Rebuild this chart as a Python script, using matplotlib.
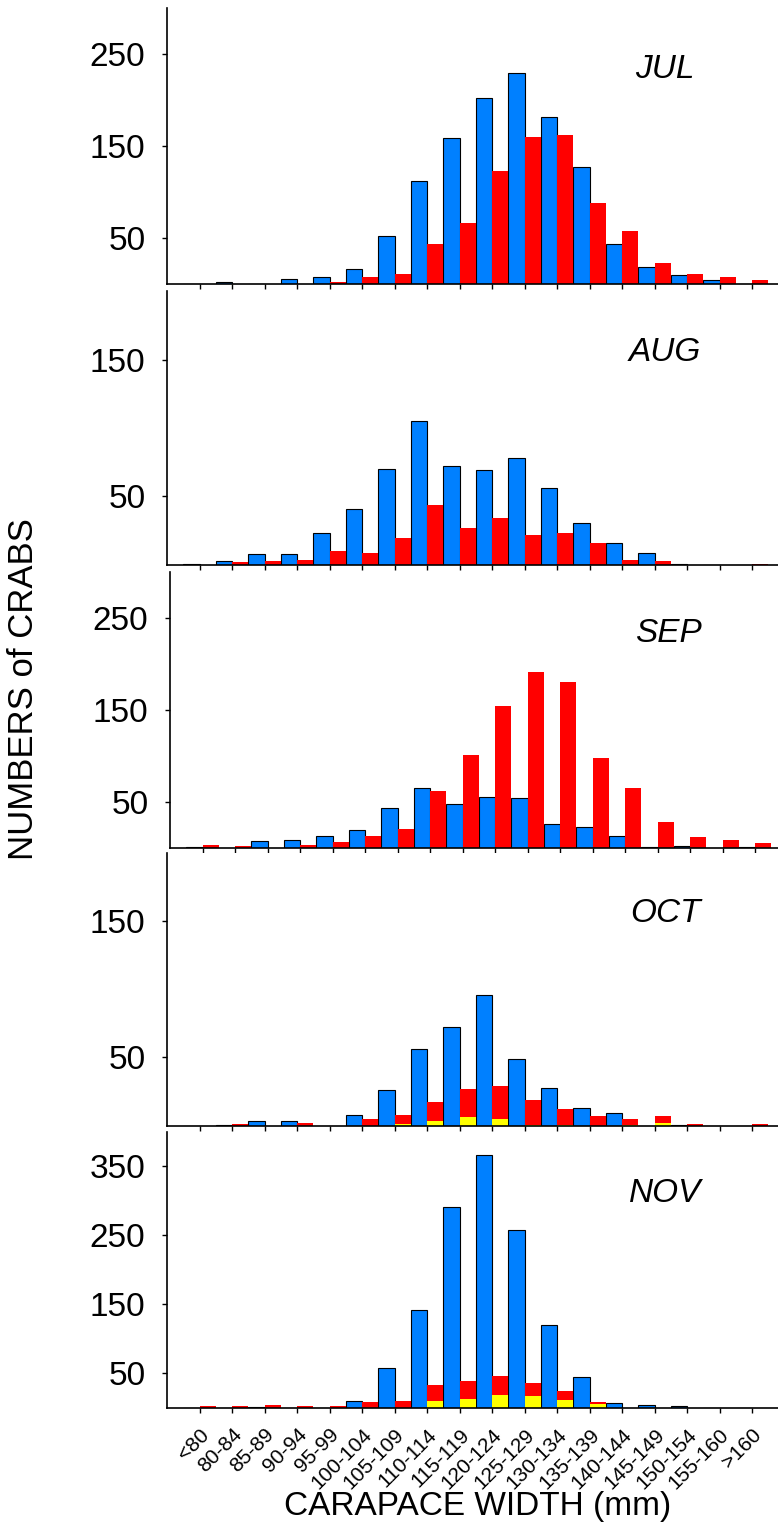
import numpy as np
import matplotlib
matplotlib.use('Agg')
import matplotlib.pyplot as plt

## {{{                          --     data     --
size_classes = ['<80', '80-84', '85-89', '90-94', '95-99', '100-104', '105-109',
                '110-114', '115-119', '120-124', '125-129', '130-134', '135-139',
                '140-144', '145-149', '150-154', '155-160', '>160']

jul_blue = [0, 2, 0, 5, 8, 16, 52, 112, 159, 202, 229, 181, 127, 43, 19, 10, 4, 0]
jul_red = [0, 0, 0, 0, 2.5, 8, 10.5, 43, 66, 123, 160, 162, 88, 58, 23, 11, 8, 4]

aug_blue = [1, 3, 8, 8, 23, 41, 70, 105, 72, 69, 78, 56, 31, 16, 9, 1, 0, 0]
aug_red = [0, 2, 3, 4, 10, 9, 20, 44, 27, 34, 22, 23, 16, 4, 3, 0, 0, 1]

sep_blue = [1, 0, 7, 8, 12, 19, 43, 65, 47, 55, 54, 26, 22, 12, 1, 2, 0, 1]
sep_red = [2.5, 1.5, 0, 2.5, 6, 12, 20, 62, 101, 154, 191, 180, 97, 65, 28, 11, 8, 5]

oct_blue = [0, 0.7, 3.6, 3, 0, 7.5, 26, 56, 72.5, 96, 49, 27.5, 13, 9, 0, 0.7, 0, 0]
oct_red = [0, 1, 0, 2, 0, 5, 8, 17, 27, 29, 19, 12, 7, 5, 7, 1, 0, 1]
oct_yellow = [0, 0, 0, 0, 0, 0, 1.2, 3.4, 6.3, 4.8, 0.5, 0.5, 0, 0.5, 1.9, 0, 0, 0]

nov_blue = [0, 0, 0.5, 0, 0, 9, 58, 141, 291, 366, 258, 120, 44, 6, 4, 1.5, 0, 0]
nov_red = [1.5, 2, 3.4, 2, 2, 7.7, 9.7, 32, 38, 46, 35, 24, 8, 0, 0, 0, 0, 0]
nov_yellow = [0, 0, 0, 0, 0, 0, 0, 9, 12, 18, 16, 10.6, 4.8, 0, 0, 0, 0, 0]

months = ['JUL', 'AUG', 'SEP', 'OCT', 'NOV']
##────────────────────────────────────────────────────────────────────────────}}}

## {{{                          --     layout     --
plt.rcParams['font.family'] = ['Liberation Sans', 'DejaVu Sans']

W, H = 778, 1523
fig = plt.figure(figsize=(W / 100, H / 100), dpi=100)

BLUE, RED, YELLOW = '#0080FF', '#FF0000', '#FFFF00'

# (blue, red, yellow, ymax, yticks, top px, bottom px, left px)
panels = [
    (jul_blue, jul_red, None, 300, [50, 150, 250], 8, 284, 167),
    (aug_blue, aug_red, None, 200, [50, 150], 291, 565, 167),
    (sep_blue, sep_red, None, 300, [50, 150, 250], 572, 847.5, 170),
    (oct_blue, oct_red, oct_yellow, 200, [50, 150], 853, 1125.5, 167),
    (nov_blue, nov_red, nov_yellow, 400, [50, 150, 250, 350], 1132, 1407.5, 167),
]
AX_W = 611
##────────────────────────────────────────────────────────────────────────────}}}

## {{{                          --     plot     --
x = np.arange(len(size_classes))
for i, (blue, red, yellow, ymax, yt, top, bot, left) in enumerate(panels):
    ax = fig.add_axes([left / W, 1 - bot / H, AX_W / W, (bot - top) / H])
    ax.bar(x - 0.25, blue, width=0.5, color=BLUE, edgecolor='black', linewidth=0.8)
    ax.bar(x + 0.25, red, width=0.5, color=RED, edgecolor='none')
    if yellow is not None:
        ax.bar(x + 0.25, yellow, width=0.5, color=YELLOW, edgecolor='none')

    ax.set_xlim(-1, 17.8)
    ax.set_ylim(0, ymax)
    ax.set_yticks(yt)
    ax.set_xticks(x)
    for s in ['top', 'right']:
        ax.spines[s].set_visible(False)
    for s in ['left', 'bottom']:
        ax.spines[s].set_linewidth(1.2)
    ax.tick_params(axis='y', direction='out', length=3.6, width=1, labelsize=24, pad=12)
    ax.tick_params(axis='x', direction='out', length=3.6, width=1)

    if i == len(panels) - 1:
        ax.set_xticklabels(size_classes, rotation=45, ha='right',
                           rotation_mode='anchor', fontsize=15)
        ax.tick_params(axis='x', pad=9)
    else:
        ax.set_xticklabels([])

    ax.text(0.815, 0.745, months[i], transform=ax.transAxes, fontsize=24,
            style='italic', ha='center', va='baseline')

fig.text(24 / W, 1 - 689 / H, 'NUMBERS of CRABS', rotation=90,
         ha='center', va='center', fontsize=25)
fig.text(478 / W, 1 - 1515 / H, 'CARAPACE WIDTH (mm)',
         ha='center', va='baseline', fontsize=24)
##────────────────────────────────────────────────────────────────────────────}}}

fig.savefig('out.png', dpi=100)
